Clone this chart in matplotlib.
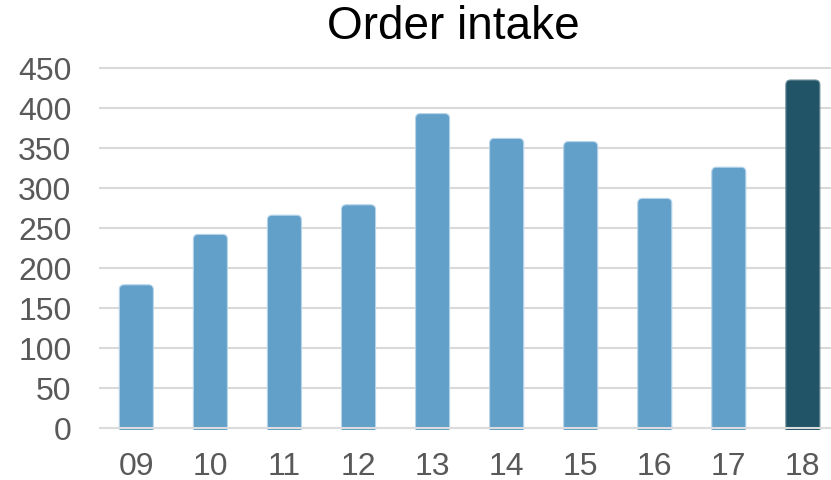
import matplotlib
matplotlib.use("Agg")
import matplotlib.pyplot as plt
from matplotlib.patches import FancyBboxPatch

# order intake per year
years = ["09", "10", "11", "12", "13", "14", "15", "16", "17", "18"]
order_intake = [179, 242, 266, 279, 393, 362, 358, 287, 326, 435]
y_ticks = [0, 50, 100, 150, 200, 250, 300, 350, 400, 450]

bar_color = "#62a0ca"
last_color = "#215467"
colors = [bar_color] * (len(years) - 1) + [last_color]

plt.rcParams["font.family"] = ["Liberation Sans", "DejaVu Sans"]

fig = plt.figure(figsize=(8.31, 4.81), dpi=100)
ax = fig.add_axes([99.3 / 831, 49.6 / 481, 1 - 99.3 / 831, 370.4 / 481])

ymin, ymax = -3, 460
x0, x1 = -0.5, 9.38
ax.set_xlim(x0, x1)
ax.set_ylim(ymin, ymax)

# invisible bars give the geometry; rounded patches are drawn on top
bars = ax.bar(range(len(years)), order_intake, width=0.46, alpha=0)

ax_w = fig.get_figwidth() * fig.dpi * ax.get_position().width
ax_h = fig.get_figheight() * fig.dpi * ax.get_position().height
aspect = (ax_w / (x1 - x0)) / (ax_h / (ymax - ymin))

for rect, c in zip(bars, colors):
    bottom = -10
    patch = FancyBboxPatch(
        (rect.get_x(), bottom), rect.get_width(), rect.get_height() - bottom,
        boxstyle="round,pad=0,rounding_size=0.065",
        mutation_aspect=aspect,
        facecolor=c, edgecolor="#b7d4ea" if c == bar_color else "#6f8f9c",
        linewidth=0.8, zorder=2,
    )
    ax.add_patch(patch)

ax.set_yticks(y_ticks)
ax.set_xticks(range(len(years)))
ax.set_xticklabels(years)
ax.grid(axis="y", color="#d9d9d9", linewidth=1.5, zorder=0)
ax.set_axisbelow(True)
ax.axhline(0, color="#dcdcdc", linewidth=1.5, zorder=3)

for s in ax.spines.values():
    s.set_visible(False)
ax.tick_params(axis="both", length=0, labelsize=23, colors="#595959")
ax.tick_params(axis="y", pad=20)
ax.tick_params(axis="x", pad=15)

fig.text(453 / 831, 1 - 39 / 481, "Order intake", ha="center", va="baseline",
         fontsize=33, color="black")

fig.savefig("out.png", dpi=100)
